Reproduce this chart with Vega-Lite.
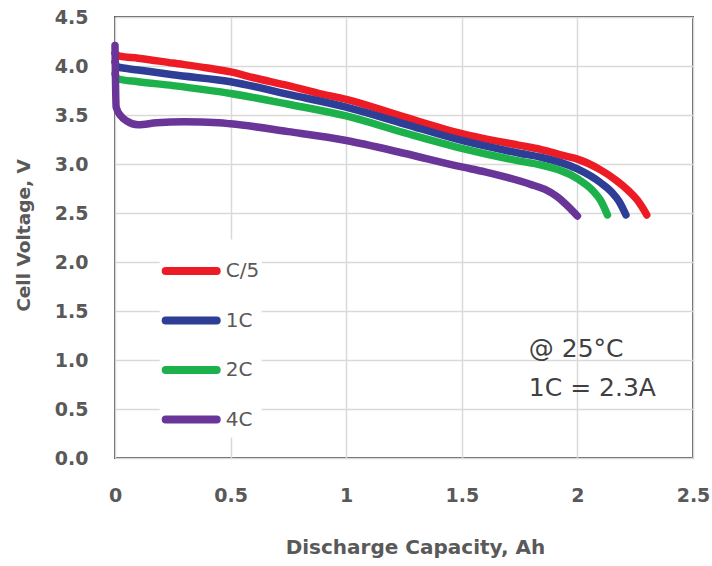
{
  "$schema": "https://vega.github.io/schema/vega-lite/v6.json",
  "autosize": {"type": "none"},
  "padding": {"left": 115, "top": 17, "right": 19, "bottom": 108},
  "width": 578,
  "height": 441,
  "background": "white",
  "config": {
    "view": {"stroke": "#595959", "strokeWidth": 2},
    "axis": {
      "domain": false,
      "ticks": false,
      "gridColor": "#d9d9d9",
      "gridWidth": 1.5,
      "labelFont": "DejaVu Sans",
      "labelFontWeight": "bold",
      "labelColor": "#595959",
      "labelFontSize": 19,
      "labelFlush": false,
      "labelOverlap": false,
      "titleFont": "DejaVu Sans",
      "titleFontWeight": "bold",
      "titleColor": "#595959"
    }
  },
  "layer": [
    {
      "data": {
        "values": [
          {"cap": 0, "v": 4.13, "rate": "C/5"},
          {"cap": 0.02, "v": 4.10, "rate": "C/5"},
          {"cap": 0.1, "v": 4.08, "rate": "C/5"},
          {"cap": 0.25, "v": 4.03, "rate": "C/5"},
          {"cap": 0.4, "v": 3.98, "rate": "C/5"},
          {"cap": 0.5, "v": 3.94, "rate": "C/5"},
          {"cap": 0.6, "v": 3.88, "rate": "C/5"},
          {"cap": 0.75, "v": 3.80, "rate": "C/5"},
          {"cap": 0.9, "v": 3.71, "rate": "C/5"},
          {"cap": 1.0, "v": 3.66, "rate": "C/5"},
          {"cap": 1.25, "v": 3.48, "rate": "C/5"},
          {"cap": 1.5, "v": 3.31, "rate": "C/5"},
          {"cap": 1.75, "v": 3.19, "rate": "C/5"},
          {"cap": 1.84, "v": 3.15, "rate": "C/5"},
          {"cap": 1.95, "v": 3.08, "rate": "C/5"},
          {"cap": 2.0, "v": 3.05, "rate": "C/5"},
          {"cap": 2.1, "v": 2.94, "rate": "C/5"},
          {"cap": 2.17, "v": 2.83, "rate": "C/5"},
          {"cap": 2.22, "v": 2.73, "rate": "C/5"},
          {"cap": 2.26, "v": 2.63, "rate": "C/5"},
          {"cap": 2.28, "v": 2.56, "rate": "C/5"},
          {"cap": 2.3, "v": 2.48, "rate": "C/5"},

          {"cap": 0, "v": 4.04, "rate": "1C"},
          {"cap": 0.01, "v": 3.99, "rate": "1C"},
          {"cap": 0.1, "v": 3.96, "rate": "1C"},
          {"cap": 0.25, "v": 3.91, "rate": "1C"},
          {"cap": 0.5, "v": 3.84, "rate": "1C"},
          {"cap": 0.75, "v": 3.71, "rate": "1C"},
          {"cap": 1.0, "v": 3.58, "rate": "1C"},
          {"cap": 1.25, "v": 3.41, "rate": "1C"},
          {"cap": 1.5, "v": 3.24, "rate": "1C"},
          {"cap": 1.75, "v": 3.11, "rate": "1C"},
          {"cap": 1.84, "v": 3.07, "rate": "1C"},
          {"cap": 2.0, "v": 2.95, "rate": "1C"},
          {"cap": 2.1, "v": 2.81, "rate": "1C"},
          {"cap": 2.15, "v": 2.71, "rate": "1C"},
          {"cap": 2.18, "v": 2.62, "rate": "1C"},
          {"cap": 2.21, "v": 2.48, "rate": "1C"},

          {"cap": 0, "v": 3.92, "rate": "2C"},
          {"cap": 0.01, "v": 3.87, "rate": "2C"},
          {"cap": 0.1, "v": 3.84, "rate": "2C"},
          {"cap": 0.25, "v": 3.80, "rate": "2C"},
          {"cap": 0.5, "v": 3.72, "rate": "2C"},
          {"cap": 0.75, "v": 3.61, "rate": "2C"},
          {"cap": 1.0, "v": 3.49, "rate": "2C"},
          {"cap": 1.25, "v": 3.32, "rate": "2C"},
          {"cap": 1.5, "v": 3.16, "rate": "2C"},
          {"cap": 1.75, "v": 3.03, "rate": "2C"},
          {"cap": 1.84, "v": 2.99, "rate": "2C"},
          {"cap": 2.0, "v": 2.85, "rate": "2C"},
          {"cap": 2.07, "v": 2.72, "rate": "2C"},
          {"cap": 2.1, "v": 2.63, "rate": "2C"},
          {"cap": 2.13, "v": 2.48, "rate": "2C"},

          {"cap": 0, "v": 4.21, "rate": "4C"},
          {"cap": 0.005, "v": 3.58, "rate": "4C"},
          {"cap": 0.025, "v": 3.49, "rate": "4C"},
          {"cap": 0.05, "v": 3.44, "rate": "4C"},
          {"cap": 0.1, "v": 3.40, "rate": "4C"},
          {"cap": 0.18, "v": 3.42, "rate": "4C"},
          {"cap": 0.3, "v": 3.43, "rate": "4C"},
          {"cap": 0.45, "v": 3.42, "rate": "4C"},
          {"cap": 0.5, "v": 3.41, "rate": "4C"},
          {"cap": 0.75, "v": 3.33, "rate": "4C"},
          {"cap": 1.0, "v": 3.24, "rate": "4C"},
          {"cap": 1.25, "v": 3.11, "rate": "4C"},
          {"cap": 1.5, "v": 2.97, "rate": "4C"},
          {"cap": 1.6, "v": 2.92, "rate": "4C"},
          {"cap": 1.7, "v": 2.86, "rate": "4C"},
          {"cap": 1.8, "v": 2.79, "rate": "4C"},
          {"cap": 1.86, "v": 2.74, "rate": "4C"},
          {"cap": 1.91, "v": 2.67, "rate": "4C"},
          {"cap": 1.95, "v": 2.59, "rate": "4C"},
          {"cap": 1.98, "v": 2.52, "rate": "4C"},
          {"cap": 2.0, "v": 2.47, "rate": "4C"}
        ]
      },
      "mark": {"type": "line", "strokeWidth": 7.5, "strokeCap": "round", "strokeJoin": "round", "interpolate": "monotone"},
      "encoding": {
        "x": {
          "field": "cap", "type": "quantitative",
          "scale": {"domain": [0, 2.5], "nice": false},
          "axis": {
            "values": [0, 0.5, 1, 1.5, 2, 2.5],
            "labelExpr": "datum.value",
            "labelPadding": 28,
            "title": "Discharge Capacity, Ah",
            "titleFontSize": 20,
            "titleX": 300,
            "titleY": 89,
            "titleBaseline": "middle"
          }
        },
        "y": {
          "field": "v", "type": "quantitative",
          "scale": {"domain": [0, 4.5], "nice": false},
          "axis": {
            "values": [0, 0.5, 1, 1.5, 2, 2.5, 3, 3.5, 4, 4.5],
            "format": ".1f",
            "labelPadding": 27,
            "title": "Cell Voltage, V",
            "titleFontSize": 18.5,
            "titleX": -92,
            "titleY": 218,
            "titleAngle": -90,
            "titleBaseline": "middle",
            "titleAlign": "center"
          }
        },
        "color": {
          "field": "rate", "type": "nominal",
          "scale": {"domain": ["C/5", "1C", "2C", "4C"], "range": ["#ed1c24", "#2e3d96", "#1db14b", "#6a3598"]},
          "legend": {
            "title": null,
            "orient": "none",
            "legendX": 44.7,
            "legendY": 222.5,
            "padding": 2,
            "fillColor": "white",
            "symbolType": "stroke",
            "symbolSize": 2601,
            "symbolStrokeWidth": 8,
            "rowPadding": 3.5,
            "labelOffset": 5,
            "labelFont": "DejaVu Sans",
            "labelFontSize": 20,
            "labelColor": "#595959",
            "encode": {"symbols": {"update": {"strokeCap": {"value": "round"}}}}
          }
        }
      }
    },
    {
      "data": {
        "values": [
          {"cap": 1.79, "v": 1.03, "t": "@ 25°C"},
          {"cap": 1.79, "v": 0.633, "t": "1C = 2.3A"}
        ]
      },
      "mark": {"type": "text", "align": "left", "baseline": "alphabetic", "font": "DejaVu Sans", "fontSize": 25, "color": "#404040"},
      "encoding": {
        "x": {"field": "cap", "type": "quantitative"},
        "y": {"field": "v", "type": "quantitative"},
        "text": {"field": "t"}
      }
    }
  ]
}
